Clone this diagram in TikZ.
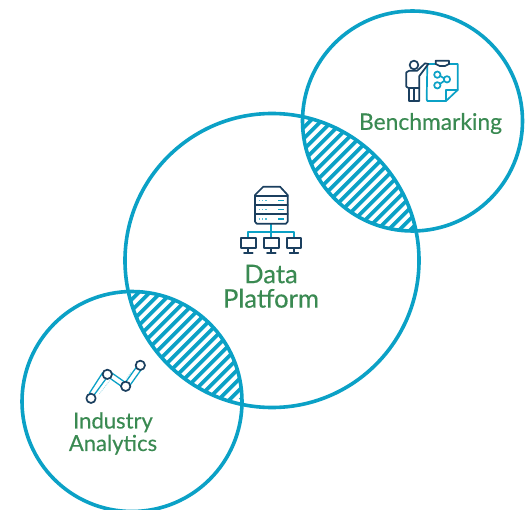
\documentclass[tikz,border=0pt]{standalone}
\usepackage{fontspec}
\setmainfont{Lato}
\newfontfamily\labfont{Lato}[FakeBold=0.3]
\definecolor{teal}{HTML}{0BA1C6}
\definecolor{navy}{HTML}{1B3F5F}
\definecolor{grn}{HTML}{3A8A52}
\tikzset{
  ring/.style={draw=teal,line width=3.6pt},
  hatch/.style={draw=teal,line width=3.7pt},
  lab/.style={text=grn,align=center,inner sep=0pt},
  dk/.style={draw=navy,line width=1.7pt,line join=round,line cap=round,fill=white},
  tl/.style={draw=teal,line width=1.7pt,line join=round,line cap=round},
}
\begin{document}
\begin{tikzpicture}[x=1pt,y=-1pt]
\useasboundingbox (0,0) rectangle (529,510);
\fill[white] (0,0) rectangle (529,510);
% hatching
\begin{scope}
  \clip (272,260.5) circle[radius=147];
  \clip (412.5,121) circle[radius=110];
  \foreach \c in {0,1,...,30} {\draw[hatch] (376.3+11*\c-300,300) -- (376.3+11*\c,0);}
\end{scope}
\begin{scope}
  \clip (272,260.5) circle[radius=147];
  \clip (132,401.5) circle[radius=110];
  \foreach \c in {0,1,...,30} {\draw[hatch] (343.3+11*\c-400,400) -- (343.3+11*\c,0);}
\end{scope}
% rings
\draw[ring] (272,260.5) circle[radius=147];
\draw[ring] (412.5,121) circle[radius=110];
\draw[ring] (132,401.5) circle[radius=110];
% labels
\node[lab,font=\labfont\fontsize{22.8}{24}\selectfont] (bench) at (430.5,123.5) {Benchmarking};
\node[lab,font=\labfont\fontsize{25.6}{24.5}\selectfont] (plat) at (271,286.3) {Data\\Platform};
\node[lab,font=\labfont\fontsize{22}{22.5}\selectfont] (ind) at (113,433.5) {Industry\\Analytics};
% server icon
\begin{scope}[shift={(220,170)},x=0.3333pt,y=-0.3333pt]
  \draw[tl] (153,160) -- (153,205);
  \draw[tl] (85,205) -- (85,185) -- (222,185) -- (222,205);
  \draw[dk] (105,75) -- (130,50) -- (180,50) -- (203,75) -- (203,155) -- (198,161) -- (110,161) -- (105,155) -- cycle;
  \draw[dk] (105,77) -- (203,77) (105,105) -- (203,105) (105,133) -- (203,133);
  \foreach \yy in {91,119,147} {
    \draw[teal,line width=1.3pt] (175,\yy) -- (192,\yy);
    \draw[teal!70,line width=1.1pt,dash pattern=on 1.2pt off 2.2pt] (116,\yy) -- (142,\yy);
  }
  \foreach \xx in {85,154,222} {
    \draw[dk] (\xx-22,205) rectangle (\xx+22,235);
    \draw[dk] (\xx,235) -- (\xx,247) (\xx-13,248) -- (\xx+13,248);
  }
\end{scope}
% analytics icon
\begin{scope}[shift={(60,340)},x=0.3333pt,y=-0.3333pt]
  \draw[tl,line width=1.3pt] (88,160) -- (128,98) (103,164) -- (144,108);
  \draw[tl,line width=1.3pt] (150,95) -- (197,128) (146,112) -- (190,143);
  \draw[tl,line width=1.3pt] (196,128) -- (233,76) (210,136) -- (247,84);
  \draw[teal!45,line width=.6pt,dash pattern=on 1pt off 1pt] (118,162) -- (155,114);
  \draw[teal!45,line width=.6pt,dash pattern=on 1pt off 1pt] (200,115) -- (213,96);
  \draw[dk] (93,175) circle[radius=14];
  \draw[dk] (142,103) circle[radius=14];
  \draw[dk] (197,139) circle[radius=14];
  \draw[dk] (241,76) circle[radius=14];
\end{scope}
% presenter icon
\begin{scope}[shift={(340,40)},x=0.3333pt,y=-0.3333pt]
  \draw[tl] (262,72) -- (260,178) -- (262,183) -- (318,183) -- (353,150) -- (353,72) -- (326,72) (262,72) -- (288,72);
  \draw[tl] (318,183) -- (318,150) -- (353,150);
  \draw[dk] (287,62) -- (327,62) -- (327,72) -- (315,78) -- (299,78) -- (287,72) -- cycle;
  \draw[tl] (292,104) circle[radius=9.5] (292,136) circle[radius=9.5] (321,118) circle[radius=9.5];
  \draw[tl] (301,108) -- (312,115) (301,131) -- (312,123);
  \draw[dk] (222,75) circle[radius=13];
  \draw[dk] (208,92) -- (199,97) -- (199,140) -- (207,145) -- (207,183) -- (238,183) -- (238,145) -- (238,108) -- (265,72) -- (255,70) -- (232,92) -- cycle;
  \draw[dk] (222,145) -- (222,183) (207,145) -- (238,145);
\end{scope}
\end{tikzpicture}
\end{document}
